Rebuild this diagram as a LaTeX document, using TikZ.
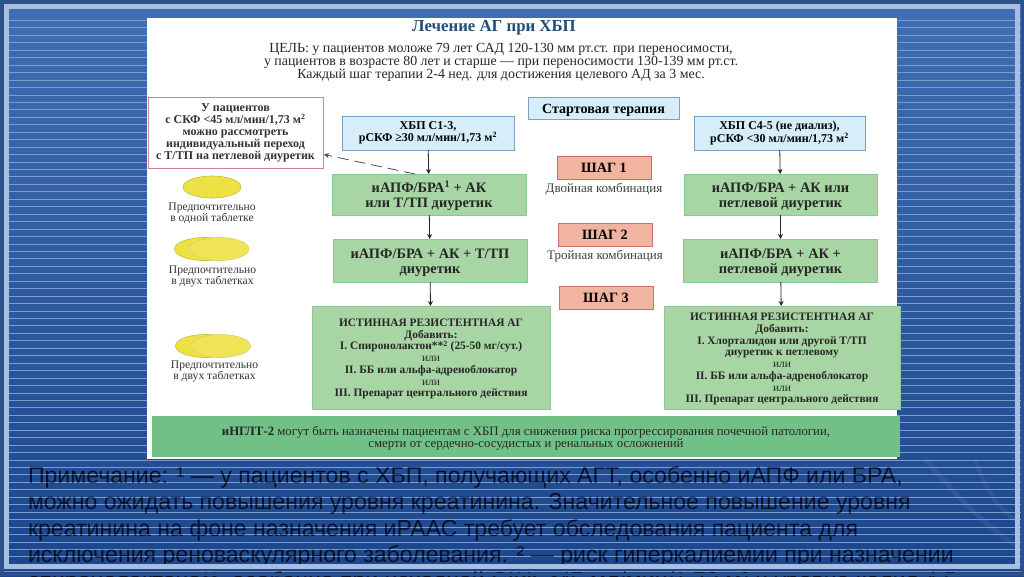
\documentclass[tikz,border=0pt]{standalone}
\usepackage{fontspec}
\setmainfont{Liberation Serif}
\newfontfamily\notefont{Liberation Sans}
\usepackage{xcolor}
\usetikzlibrary{arrows.meta, positioning, shapes.geometric}
\definecolor{greenfill}{RGB}{168,213,164}
\definecolor{greenline}{RGB}{140,200,150}
\definecolor{bandfill}{RGB}{112,192,136}
\definecolor{bluefill}{RGB}{214,238,250}
\definecolor{blueline}{RGB}{125,160,190}
\definecolor{stepfill}{RGB}{240,180,160}
\definecolor{stepline}{RGB}{205,110,100}
\definecolor{noteline}{RGB}{208,130,145}
\definecolor{pillfill}{RGB}{236,226,70}
\definecolor{pillline}{RGB}{200,190,50}
\definecolor{stripe}{RGB}{125,156,206}
\definecolor{framecol}{RGB}{168,190,224}
\definecolor{outercol}{RGB}{44,80,136}
\definecolor{titlecol}{RGB}{31,78,121}
\definecolor{notetext}{RGB}{8,16,40}

\begin{document}
\begin{tikzpicture}[
  x=1pt, y=-1pt,
  every node/.style={align=center, outer sep=0pt, inner sep=0pt},
  greenbase/.style={draw=greenline, fill=greenfill, line width=0.8pt, text=black!85},
  greenbox/.style={greenbase, font=\bfseries\fontsize{14.4}{15}\selectfont, text height=29pt},
  bigbox/.style={greenbase, font=\bfseries\fontsize{11.4}{11.7}\selectfont},
  bluebox/.style={draw=blueline, fill=bluefill, line width=0.8pt,
              font=\bfseries\fontsize{12}{12}\selectfont},
  stepbox/.style={draw=stepline, fill=stepfill, line width=0.8pt, minimum width=94pt,
              minimum height=23pt, font=\bfseries\fontsize{14.2}{15}\selectfont,
              execute at begin node={\rule{0pt}{10pt}}},
  pill/.style={ellipse, draw=pillline, fill=pillfill, line width=0.6pt,
              minimum width=60pt, minimum height=23pt},
  pillfront/.style={pill, draw=pillline!70, fill=pillfill!92!white},
  small/.style={font=\fontsize{11.6}{11}\selectfont, text=black!80},
  stepnote/.style={font=\fontsize{13}{14}\selectfont, text=black!75},
  arr/.style={-{Stealth[length=5pt,width=5pt]}, line width=0.8pt, black!85},
  dasharr/.style={arr, dash pattern=on 11pt off 6pt, black!70}
]
  % slide background
  \useasboundingbox (0,0) rectangle (1024,576);
  \fill[top color={rgb,255:red,64;green,110;blue,178}, bottom color={rgb,255:red,28;green,70;blue,140}]
    (0,0) rectangle (1024,576);
  \draw[white, opacity=.06, line width=5pt] (925,459) .. controls (960,500) and (985,525) .. (1015,545);
  \draw[white, opacity=.05, line width=4pt] (975,459) .. controls (985,490) and (1000,510) .. (1015,520);
  \foreach \k in {0,...,74}
    \draw[stripe, line width=0.6pt] (0,20.3+7.45*\k) -- (1024,20.3+7.45*\k);
  \fill[white] (147,18) rectangle (897,459);
  \fill[bandfill] (152,416) rectangle (900,457);

  % head
  \node[text=titlecol, font=\bfseries\fontsize{16.8}{18}\selectfont] (title) at (494,28) {Лечение АГ при ХБП};
  \node[font=\fontsize{13.9}{13}\selectfont, text=black!85] (goal) at (501,62)
       {ЦЕЛЬ: у пациентов моложе 79 лет САД 120-130 мм рт.ст. при переносимости,\\
        у пациентов в возрасте 80 лет и старше --- при переносимости 130-139 мм рт.ст.\\
        Каждый шаг терапии 2-4 нед. для достижения целевого АД за 3 мес.};

  % left column
  \node[bluebox, minimum width=172pt, minimum height=34pt] (ckdone) at (428,133)
       {ХБП С1-3,\\рСКФ ≥30 мл/мин/1,73 м\textsuperscript{2}};
  \node[greenbox, minimum width=194pt, minimum height=41pt, below=24pt of ckdone, xshift=1pt] (gone)
       {иАПФ/БРА\textsuperscript{1} + АК\\или Т/ТП диуретик};
  \node[greenbox, minimum width=194pt, minimum height=43pt, below=24pt of gone, xshift=1pt] (gtwo)
       {иАПФ/БРА + АК + Т/ТП\\диуретик};
  \node[bigbox, text height=81pt, minimum width=238pt, minimum height=103pt, below=24pt of gtwo, xshift=1pt] (gthree)
       {ИСТИННАЯ РЕЗИСТЕНТНАЯ АГ\\Добавить:\\I. Спиронолактон**\textsuperscript{2} (25-50 мг/сут.)\\
        {\mdseries или}\\II. ББ или альфа-адреноблокатор\\{\mdseries или}\\III. Препарат центрального действия};

  % right column
  \node[bluebox, minimum width=171pt, minimum height=34pt] (ckdfour) at (779.5,133)
       {ХБП С4-5 (не диализ),\\рСКФ <30 мл/мин/1,73 м\textsuperscript{2}};
  \node[greenbox, minimum width=193pt, minimum height=41pt, below=24pt of ckdfour, xshift=1pt] (rone)
       {иАПФ/БРА + АК или\\петлевой диуретик};
  \node[greenbox, minimum width=194pt, minimum height=43pt, below=24pt of rone] (rtwo)
       {иАПФ/БРА + АК +\\петлевой диуретик};
  \node[bigbox, text height=93pt, minimum width=236pt, minimum height=103pt, below=24pt of rtwo, xshift=1.5pt] (rthree)
       {ИСТИННАЯ РЕЗИСТЕНТНАЯ АГ\\Добавить:\\I. Хлорталидон или другой Т/ТП\\диуретик к петлевому\\
        {\mdseries или}\\II. ББ или альфа-адреноблокатор\\{\mdseries или}\\III. Препарат центрального действия};

  % middle column
  \node[bluebox, minimum width=151pt, minimum height=22pt, font=\bfseries\fontsize{14.1}{15}\selectfont,
        execute at begin node={\rule{0pt}{13pt}}] (start) at (603.5,108)
       {Стартовая терапия};
  \node[stepbox] (stepone) at (604,167.5) {ШАГ 1};
  \node[stepnote, below=4pt of stepone] (stepdouble) {Двойная комбинация};
  \node[stepbox] (steptwo) at (605,234.5) {ШАГ 2};
  \node[stepnote, below=4pt of steptwo] (steptriple) {Тройная комбинация};
  \node[stepbox] (stepthree) at (606,298) {ШАГ 3};

  % side note and tablets
  \node[draw=noteline, fill=white, line width=0.8pt, minimum width=175pt, minimum height=71pt,
        font=\bfseries\fontsize{12}{11.7}\selectfont, text=black!80] (side) at (235.5,132.5)
       {У пациентов\\с СКФ <45 мл/мин/1,73 м\textsuperscript{2}\\можно рассмотреть\\индивидуальный переход\\с Т/ТП на петлевой диуретик};
  \node[pill, minimum width=58pt, minimum height=22pt] (pillone) at (212,187) {};
  \node[small, below=5pt of pillone] (pilltextone) {Предпочтительно\\в одной таблетке};
  \node[pill] (pilltwoa) at (204.5,249) {};
  \node[pillfront] (pilltwob) at (219,249) {};
  \node[small, below=5pt of pilltwoa, xshift=8pt] (pilltexttwo) {Предпочтительно\\в двух таблетках};
  \node[pill] (pillthreea) at (205.5,346) {};
  \node[pillfront] (pillthreeb) at (220.5,346) {};
  \node[small, below=3pt of pillthreea, xshift=9pt] (pilltextthree) {Предпочтительно\\в двух таблетках};

  % bottom band
  \node[font=\fontsize{12.8}{11.5}\selectfont, text=black!85] (sglt) at (526,438.5)
       {\textbf{иНГЛТ-2} могут быть назначены пациентам с ХБП для снижения риска прогрессирования почечной патологии,\\
        смерти от сердечно-сосудистых и ренальных осложнений};

  \draw[arr] (ckdone) -- (gone);
  \draw[arr] (gone) -- (gtwo);
  \draw[arr] (gtwo) -- (gthree);
  \draw[arr] (ckdfour) -- (rone);
  \draw[arr] (rone) -- (rtwo);
  \draw[arr] (rtwo) -- (rthree);
  \draw[dasharr] ([xshift=-14pt]gone.north) -- ([xshift=1pt,yshift=-22pt]side.east);

  % remark under the chart
  \node[anchor=north west, align=left, text=notetext, font=\notefont\fontsize{23.1}{26.3}\selectfont] (remark) at (28,466.5)
       {Примечание: ¹ — у пациентов с ХБП, получающих АГТ, особенно иАПФ или БРА,\\
        можно ожидать повышения уровня креатинина. Значительное повышение уровня\\
        креатинина на фоне назначения иРААС требует обследования пациента для\\
        исключения реноваскулярного заболевания. ² — риск гиперкалиемии при назначении\\
        спиронолактона**, особенно при исходной СКФ <45 мл/мин/1,73 м² и уровне калия 4,5};
  \foreach \k in {59,...,74}
    \draw[stripe, opacity=.4, line width=0.6pt] (0,20.3+7.45*\k) -- (1024,20.3+7.45*\k);

  % frame
  \draw[outercol, line width=3.5pt] (1.75,1.75) rectangle (1022.25,574.25);
  \draw[framecol, line width=5pt] (6.5,6.5) rectangle (1017.5,566.5);
\end{tikzpicture}
\end{document}
